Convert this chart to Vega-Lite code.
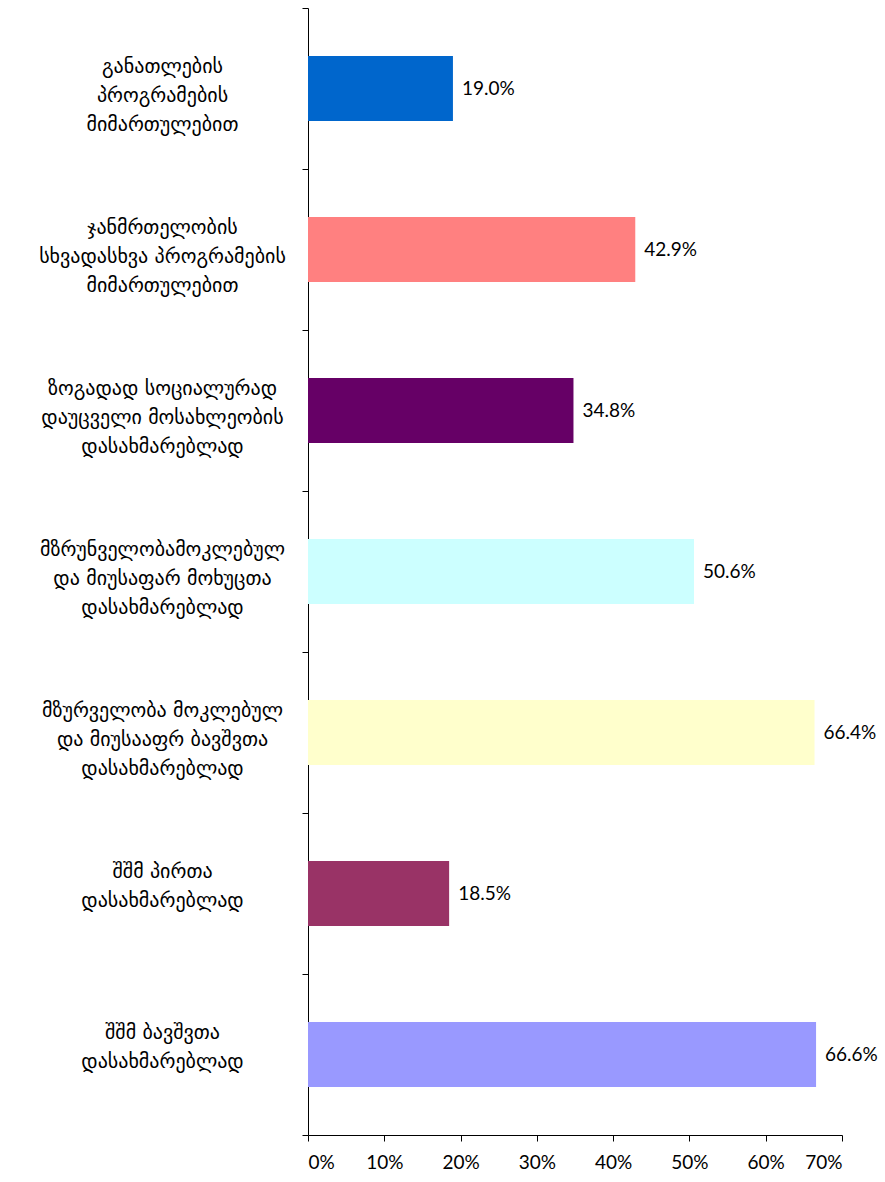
{
  "$schema": "https://vega.github.io/schema/vega-lite/v6.json",
  "autosize": "none",
  "width": 534,
  "height": 1127,
  "padding": {"left": 308, "top": 8, "right": 43, "bottom": 47},
  "background": "white",
  "config": {"view": {"stroke": null}, "font": "Lato, DejaVu Sans"},
  "data": {"values": [
    {"label": "განათლების|პროგრამების|მიმართულებით", "value": 0.190},
    {"label": "ჯანმრთელობის|სხვადასხვა პროგრამების|მიმართულებით", "value": 0.429},
    {"label": "ზოგადად სოციალურად|დაუცველი მოსახლეობის|დასახმარებლად", "value": 0.348},
    {"label": "მზრუნველობამოკლებულ|და მიუსაფარ მოხუცთა|დასახმარებლად", "value": 0.506},
    {"label": "მზურველობა მოკლებულ|და მიუსააფრ ბავშვთა|დასახმარებლად", "value": 0.664},
    {"label": "შშმ პირთა|დასახმარებლად", "value": 0.185},
    {"label": "შშმ ბავშვთა|დასახმარებლად", "value": 0.666}
  ]},
  "encoding": {
    "y": {
      "field": "label", "type": "nominal", "sort": null,
      "scale": {"paddingInner": 0, "paddingOuter": 0},
      "axis": {
        "title": null,
        "labelExpr": "split(datum.label, '|')",
        "labelAlign": "center",
        "labelFont": "DejaVu Sans",
        "labelFontSize": 20,
        "labelLineHeight": 29,
        "labelColor": "black",
        "labelLimit": 400,
        "labelOffset": -22,
        "tickBand": "extent",
        "tickSize": 6,
        "tickColor": "black",
        "domainColor": "black",
        "labelPadding": 140
      }
    },
    "x": {
      "field": "value", "type": "quantitative",
      "scale": {"domain": [0, 0.7], "nice": false},
      "axis": {
        "title": null,
        "format": ".0%",
        "values": [0, 0.1, 0.2, 0.3, 0.4, 0.5, 0.6, 0.7],
        "grid": false,
        "tickSize": 6,
        "tickColor": "black",
        "domainColor": "black",
        "labelColor": "black",
        "labelFontSize": 19,
        "labelPadding": 12
      }
    }
  },
  "layer": [
    {
      "mark": {"type": "bar", "height": {"band": 0.404}},
      "encoding": {
        "color": {
          "field": "label", "type": "nominal", "legend": null,
          "scale": {
            "domain": [
              "განათლების|პროგრამების|მიმართულებით",
              "ჯანმრთელობის|სხვადასხვა პროგრამების|მიმართულებით",
              "ზოგადად სოციალურად|დაუცველი მოსახლეობის|დასახმარებლად",
              "მზრუნველობამოკლებულ|და მიუსაფარ მოხუცთა|დასახმარებლად",
              "მზურველობა მოკლებულ|და მიუსააფრ ბავშვთა|დასახმარებლად",
              "შშმ პირთა|დასახმარებლად",
              "შშმ ბავშვთა|დასახმარებლად"
            ],
            "range": ["#0066CC", "#FF8080", "#660066", "#CCFFFF", "#FFFFCC", "#993366", "#9999FF"]
          }
        }
      }
    },
    {
      "mark": {"type": "text", "align": "left", "dx": 9, "fontSize": 19, "color": "black"},
      "encoding": {"text": {"field": "value", "format": ".1%"}}
    }
  ]
}
